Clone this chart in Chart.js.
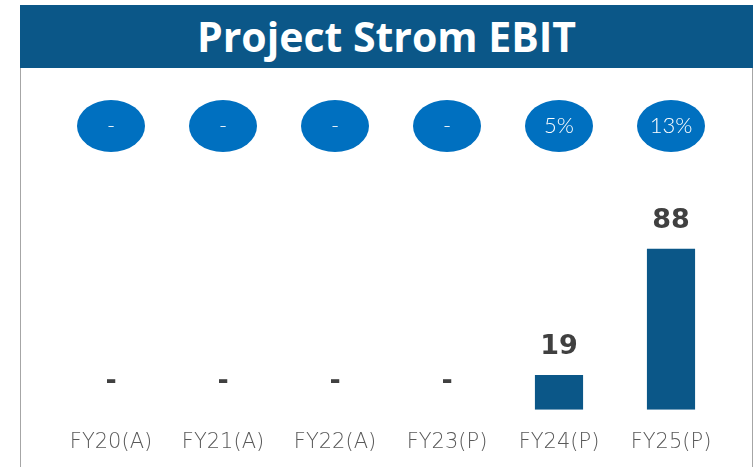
<!DOCTYPE html>
<html>
<head>
<meta charset="utf-8">
<script src="https://cdn.jsdelivr.net/npm/chart.js@4"></script>
<style>
    body { margin: 0; background: #ffffff; }
    #wrap { position: relative; width: 756px; height: 467px; overflow: hidden; }
    #title {
        position: absolute; left: 20px; top: 5px; width: 733px; height: 63px;
        background: #0b5788; color: #ffffff;
        font: 700 41px "Open Sans", sans-serif;
        text-align: center; line-height: 63px;
    }
    #frame {
        position: absolute; left: 20px; top: 68px; width: 731px; height: 410px;
        border-left: 1px solid #a6a6a6; border-right: 1px solid #a6a6a6;
    }
    canvas { position: absolute; left: 0; top: 0; }
</style>
</head>
<body>
<div id="wrap">
    <div id="title">Project Strom EBIT</div>
    <div id="frame"></div>
    <canvas id="chart" width="756" height="487"></canvas>
</div>
<script>
const years = ["FY20(A)", "FY21(A)", "FY22(A)", "FY23(P)", "FY24(P)", "FY25(P)"];
const ebit = [0, 0, 0, 0, 19, 88];
// EBIT margin shown in the ovals, null means "-"
const margin = [null, null, null, null, 5, 13];

// Draw the value above every bar, "-" when there is nothing
const barLabels = {
    id: 'barLabels',
    afterDatasetsDraw(chart) {
        const ctx = chart.ctx;
        const meta = chart.getDatasetMeta(0);
        ctx.save();
        ctx.fillStyle = '#404040';
        ctx.font = 'bold 27px "DejaVu Sans", sans-serif';
        ctx.textAlign = 'center';
        ctx.textBaseline = 'middle';
        meta.data.forEach((bar, i) => {
            const text = ebit[i] ? String(ebit[i]) : '-';
            ctx.fillText(text, bar.x, bar.y - 28);
        });
        ctx.restore();
    }
};

// Margin ovals along the top, positioned on the category scale
const marginOvals = {
    id: 'marginOvals',
    afterDraw(chart) {
        const ctx = chart.ctx;
        const xScale = chart.scales.x;
        ctx.save();
        years.forEach((y, i) => {
            const cx = xScale.getPixelForValue(i);
            const cy = 126;
            ctx.beginPath();
            ctx.ellipse(cx, cy, 34, 26, 0, 0, Math.PI * 2);
            ctx.fillStyle = '#0070c0';
            ctx.fill();
            ctx.fillStyle = '#ffffff';
            ctx.font = '300 22px Lato, sans-serif';
            ctx.textAlign = 'center';
            ctx.textBaseline = 'middle';
            ctx.fillText(margin[i] === null ? '-' : margin[i] + '%', cx, cy);
        });
        ctx.restore();
    }
};

new Chart(document.getElementById('chart'), {
    type: 'bar',
    data: {
        labels: years,
        datasets: [
            {
                label: 'EBIT',
                data: ebit,
                backgroundColor: '#0b5788',
                barPercentage: 0.43,
                categoryPercentage: 1
            }
        ]
    },
    options: {
        responsive: false,
        animation: false,
        layout: { padding: { left: 55, right: 29, top: 117, bottom: 12 } },
        plugins: {
            legend: { display: false },
            tooltip: { enabled: false }
        },
        scales: {
            x: {
                grid: { display: false, drawTicks: false },
                border: { display: false },
                ticks: {
                    color: '#595959',
                    font: { family: 'DejaVu Sans', size: 21, weight: 200 },
                    padding: 20
                }
            },
            y: {
                display: false,
                min: 0,
                max: 160
            }
        }
    },
    plugins: [barLabels, marginOvals]
});
</script>
</body>
</html>
